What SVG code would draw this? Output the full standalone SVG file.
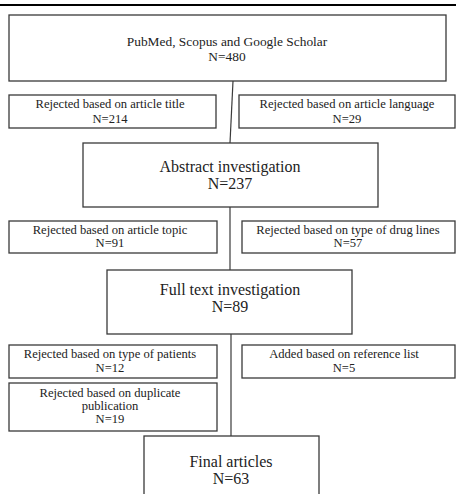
<svg xmlns="http://www.w3.org/2000/svg" width="456" height="494" viewBox="0 0 456 494">
<style>
.box{fill:#fff;stroke:#3a3a3a;stroke-width:1.3}
.conn{stroke:#3a3a3a;stroke-width:1.2;fill:none}
.s{font-size:12.6px}
.t{font-size:13.4px}
.l{font-size:16px}
</style>
<rect x="0" y="4" width="456" height="2" fill="#000"/>
<g id="connectors">
<line class="conn" x1="233" y1="81" x2="230" y2="143"/>
<line class="conn" x1="230" y1="207" x2="230" y2="270"/>
<line class="conn" x1="231" y1="334" x2="231" y2="436"/>
</g>
<g font-family="'Liberation Serif', 'DejaVu Serif', 'Times New Roman', serif" fill="#222" text-anchor="middle">
<g id="n-search">
<rect class="box" x="9" y="15" width="437" height="66"/>
<text class="t" x="227" y="46">PubMed, Scopus and Google Scholar</text>
<text class="t" x="227" y="61">N=480</text>
</g>
<g id="n-title">
<rect class="box" x="9" y="95" width="207" height="33"/>
<text class="s" x="110" y="108">Rejected based on article title</text>
<text class="s" x="110" y="123">N=214</text>
</g>
<g id="n-language">
<rect class="box" x="239" y="95" width="216" height="33"/>
<text class="s" x="347" y="108">Rejected based on article language</text>
<text class="s" x="347" y="123">N=29</text>
</g>
<g id="n-abstract">
<rect class="box" x="83" y="143" width="295" height="64"/>
<text class="l" x="230" y="172">Abstract investigation</text>
<text class="l" x="230" y="189">N=237</text>
</g>
<g id="n-topic">
<rect class="box" x="9" y="221" width="208" height="32"/>
<text class="s" x="110" y="234">Rejected based on  article topic</text>
<text class="s" x="110" y="247">N=91</text>
</g>
<g id="n-drug">
<rect class="box" x="242" y="221" width="213" height="32"/>
<text class="s" x="348" y="234">Rejected based on type of drug lines</text>
<text class="s" x="348" y="247">N=57</text>
</g>
<g id="n-fulltext">
<rect class="box" x="107" y="270" width="245" height="64"/>
<text class="l" x="230" y="295">Full text investigation</text>
<text class="l" x="230" y="312">N=89</text>
</g>
<g id="n-patients">
<rect class="box" x="9" y="345" width="208" height="33"/>
<text class="s" x="110" y="358">Rejected based on type of patients</text>
<text class="s" x="110" y="372">N=12</text>
</g>
<g id="n-added">
<rect class="box" x="242" y="345" width="213" height="33"/>
<text class="s" x="344" y="358">Added based on reference list</text>
<text class="s" x="344" y="372">N=5</text>
</g>
<g id="n-duplicate">
<rect class="box" x="9" y="383" width="208" height="48"/>
<text class="s" x="110" y="397">Rejected based on duplicate</text>
<text class="s" x="110" y="410">publication</text>
<text class="s" x="110" y="423">N=19</text>
</g>
<g id="n-final">
<rect class="box" x="144" y="436" width="175" height="70"/>
<text class="l" x="231" y="467">Final articles</text>
<text class="l" x="231" y="484">N=63</text>
</g>
</g>
</svg>
